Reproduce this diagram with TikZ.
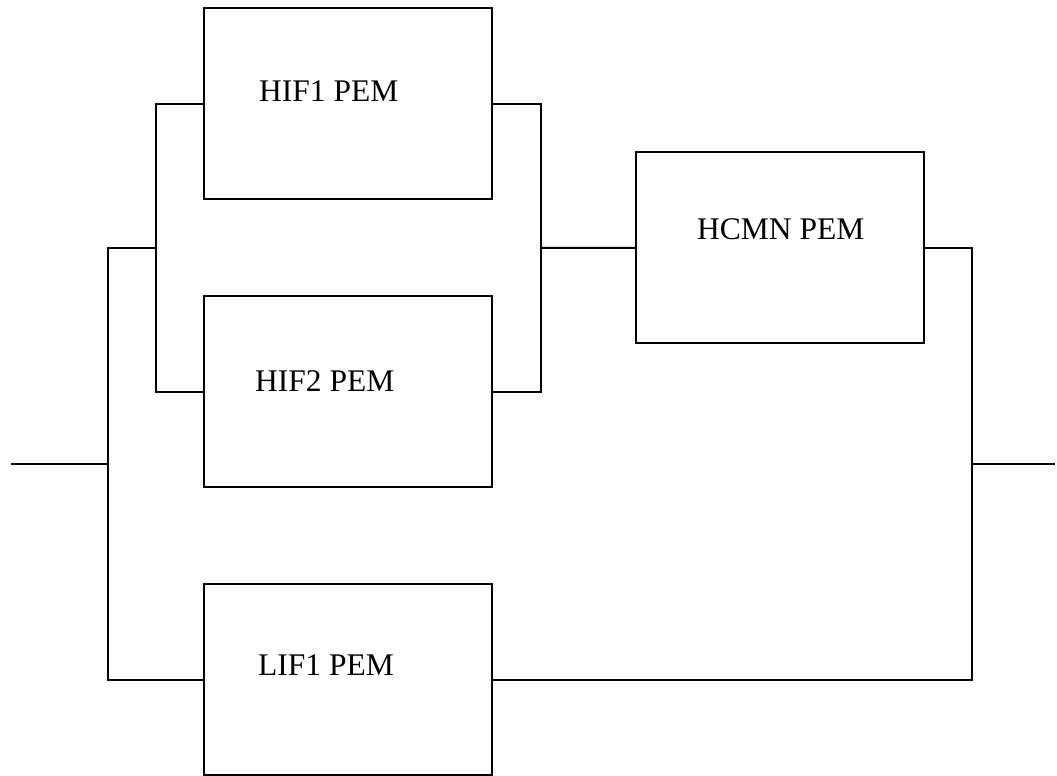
\documentclass[tikz,border=0pt]{standalone}
\usepackage{fontspec}
\setmainfont{Liberation Serif}
\begin{document}
\begin{tikzpicture}[x=1pt, y=-1pt,
  pem/.style={draw, line width=2pt, minimum width=288pt, minimum height=191pt, inner sep=0pt},
  wire/.style={line width=2pt},
  lbl/.style={anchor=base west, inner sep=0pt, font=\fontsize{31.5}{36}\selectfont}]
  \useasboundingbox (0,0) rectangle (1057,776);

  % modules
  \node[pem] (hif1) at (348,103.7) {};
  \node[pem] (hif2) at (348,391.7) {};
  \node[pem] (lif1) at (348,679.5) {};
  \node[pem] (hcmn) at (780,247.8) {};

  \node[lbl] (t1) at (259,101.7) {HIF1 PEM};
  \node[lbl] (t2) at (255,391) {HIF2 PEM};
  \node[lbl] (t3) at (258,675) {LIF1 PEM};
  \node[lbl] (t4) at (697,239) {HCMN PEM};

  % junction points
  \coordinate (in)   at (11,463.5);
  \coordinate (jin)  at (107.5,463.5);
  \coordinate (oL)   at (107.5,248);
  \coordinate (sL)   at (155.7,248);
  \coordinate (sR)   at (540.5,248);
  \coordinate (rb)   at (972,679.5);
  \coordinate (jout) at (972,463.5);
  \coordinate (out)  at (1055,463.5);

  % left side
  \draw[wire] (in) -- (jin);
  \draw[wire] (hif1.west) -| (sL) |- (hif2.west);
  \draw[wire] (sL) -- (oL) |- (lif1.west);

  % right side
  \draw[wire] (hif1.east) -| (sR) |- (hif2.east);
  \draw[wire] (sR) -- (hcmn.west);
  \draw[wire] (hcmn.east) -| (rb) -- (lif1.east);
  \draw[wire] (jout) -- (out);
\end{tikzpicture}
\end{document}
